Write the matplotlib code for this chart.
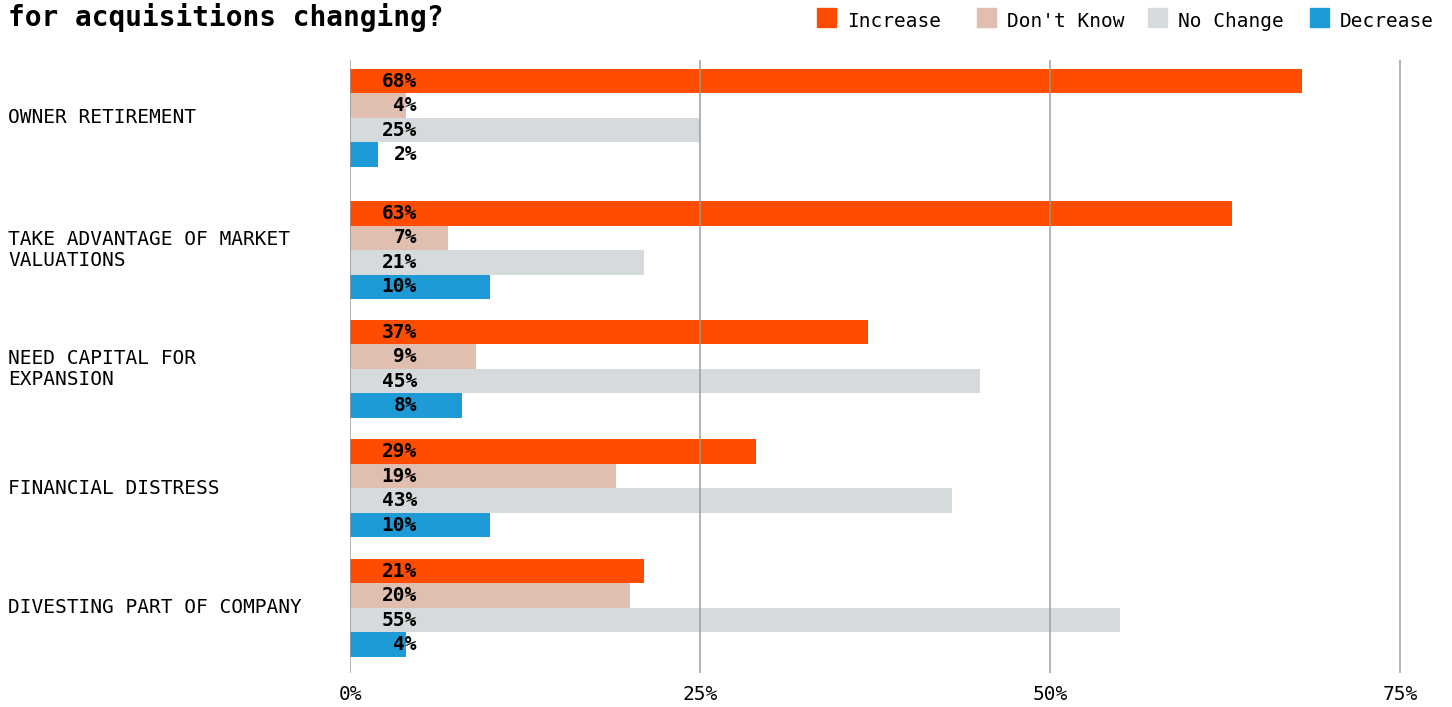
import matplotlib.pyplot as plt
import matplotlib.transforms as mtransforms
from matplotlib.patches import Rectangle
import numpy as np

plt.rcParams['font.family'] = ['DejaVu Sans Mono']

# survey data
REASONS = ['OWNER RETIREMENT',
           'TAKE ADVANTAGE OF MARKET\nVALUATIONS',
           'NEED CAPITAL FOR\nEXPANSION',
           'FINANCIAL DISTRESS',
           'DIVESTING PART OF COMPANY']
SERIES = ['Increase', "Don't Know", 'No Change', 'Decrease']
INCREASE = [68, 63, 37, 29, 21]
DONT_KNOW = [4, 7, 9, 19, 20]
NO_CHANGE = [25, 21, 45, 43, 55]
DECREASE = [2, 10, 8, 10, 4]
TICKS = [0, 25, 50, 75]

COLORS = ['#FF4D00', '#E0BFB0', '#D5DADC', '#1E9AD6']
VALUES = [INCREASE, DONT_KNOW, NO_CHANGE, DECREASE]

W, H = 1452, 707
fig = plt.figure(figsize=(W / 100, H / 100), dpi=100)
px = 1051 - 701  # pixels per 25%
x_right = 75.3
ax = fig.add_axes([350 / W, 1 - 673 / H, (px / 25 * x_right) / W, (673 - 60) / H])

# group centres (first group sits a little further from the rest)
y = np.array([0, 1.105, 2.1, 3.1, 4.1])
bh = 0.205
for i, (vals, col) in enumerate(zip(VALUES, COLORS)):
    yy = y + (i - 1.5) * bh
    ax.barh(yy, vals, height=bh, color=col, zorder=1)
    for yv, v in zip(yy, vals):
        ax.text(4.78, yv, f'{v}%', ha='right', va='center', fontsize=14,
                fontweight='bold', color='black', zorder=3)

ax.set_xlim(0, x_right)
ax.set_ylim(4.644, -0.485)
ax.set_xticks(TICKS)
ax.set_xticklabels([f'{t}%' for t in TICKS], fontsize=14)
ax.tick_params(axis='x', length=0, pad=9)
ax.set_yticks([])
for s in ax.spines.values():
    s.set_visible(False)
for t in TICKS:
    ax.axvline(t, color='#999999', alpha=0.8, lw=1.3, zorder=2)

# category labels on the left edge of the figure
trans = mtransforms.blended_transform_factory(fig.transFigure, ax.transData)
for yv, name in zip(y, REASONS):
    ax.text(8 / W, yv, name, transform=trans, ha='left', va='center',
            fontsize=14, linespacing=1.15)

fig.text(8 / W, 1 - 26 / H, 'for acquisitions changing?', fontsize=20,
         fontweight='bold', va='baseline', ha='left')

# legend
leg_x = [817, 977, 1148, 1310]
for lx, name, col in zip(leg_x, SERIES, COLORS):
    fig.add_artist(Rectangle((lx / W, 1 - 27 / H), 19 / W, 19 / H,
                             transform=fig.transFigure, color=col))
    fig.text((lx + 30) / W, 1 - 27 / H, name, fontsize=14, va='baseline', ha='left')

fig.savefig('out.png', dpi=100, facecolor='white')
